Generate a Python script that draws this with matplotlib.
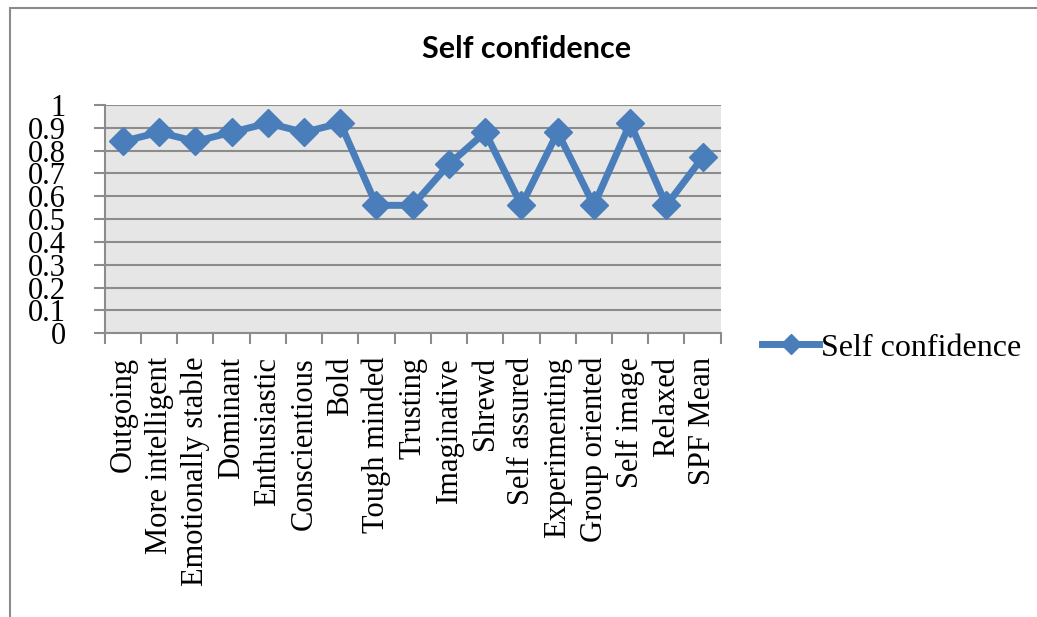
import numpy as np
import matplotlib.pyplot as plt
from matplotlib.patches import Rectangle

categories = ['Outgoing', 'More intelligent', 'Emotionally stable', 'Dominant',
              'Enthusiastic', 'Conscientious', 'Bold', 'Tough minded', 'Trusting',
              'Imaginative', 'Shrewd', 'Self assured', 'Experimenting',
              'Group oriented', 'Self image', 'Relaxed', 'SPF Mean']
values = [0.84, 0.88, 0.84, 0.88, 0.92, 0.88, 0.92, 0.56, 0.56,
          0.74, 0.88, 0.56, 0.88, 0.56, 0.92, 0.56, 0.77]
yticks = np.round(np.arange(0, 1.01, 0.1), 1)
ytick_labels = ['0' if v == 0 else '1' if v == 1 else f'{v:.1f}' for v in yticks]

color = '#4a7ebb'
serif = 'Liberation Serif'

fig = plt.figure(figsize=(10.37, 6.17), dpi=100)
# рамка діаграми
fig.patches.append(Rectangle((10 / 1037, -0.05), 1.1, 1 - 8 / 617 + 0.05,
                             transform=fig.transFigure, fill=False,
                             edgecolor='#8c8c8c', linewidth=1.5))

ax = fig.add_axes([0.101, 0.460, 0.594, 0.370])
ax.set_facecolor('#e6e6e6')
x = np.arange(len(categories))
ax.plot(x, values, color=color, linewidth=5, marker='D', markersize=14,
        label='Self confidence', zorder=3)

ax.set_xlim(-0.5, len(categories) - 0.5)
ax.set_ylim(0, 1)
ax.set_yticks(yticks)
ax.set_yticklabels(ytick_labels, fontfamily=serif, fontsize=22)
ax.yaxis.grid(True, color='#8c8c8c', linewidth=1.5)
ax.set_axisbelow(True)

ax.set_xticks(np.arange(-0.5, len(categories), 1))
ax.set_xticklabels([])
ax.set_xticks(x, minor=True)
ax.set_xticklabels(categories, minor=True, rotation=90, fontfamily=serif,
                   fontsize=22)
ax.tick_params(axis='x', which='major', length=8, width=1.5, color='#8c8c8c')
ax.tick_params(axis='x', which='minor', length=0, pad=17)
ax.tick_params(axis='y', length=8, width=1.5, color='#8c8c8c', pad=20)

for s in ['top', 'right']:
    ax.spines[s].set_visible(False)
for s in ['left', 'bottom']:
    ax.spines[s].set_color('#8c8c8c')
    ax.spines[s].set_linewidth(1.5)

fig.text(0.508, 0.92, 'Self confidence', ha='center', va='center',
         fontfamily='Lato', fontweight='bold', fontsize=22)

ax.legend(loc='center left', bbox_to_anchor=(0.707, 0.436),
          bbox_transform=fig.transFigure, frameon=False,
          prop={'family': serif, 'size': 23}, handlelength=1.8,
          handletextpad=0.05, markerscale=0.7)

fig.savefig('out.png', dpi=100)
